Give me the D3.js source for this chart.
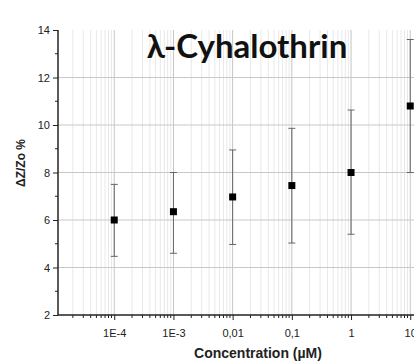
<!DOCTYPE html>
<html>
<head>
<meta charset="utf-8">
<script src="https://cdn.jsdelivr.net/npm/d3@7"></script>
<style>
  body { margin: 0; background: #fff; }
  svg { display: block; }
</style>
</head>
<body>
<div id="chart"></div>
<script>
// data
const concentrations = [1e-4, 1e-3, 1e-2, 1e-1, 1, 10];
const means = [6.0, 6.35, 6.97, 7.45, 8.0, 10.8];
const errLow = [4.47, 4.6, 4.97, 5.03, 5.4, 8.0];
const errHigh = [7.5, 8.0, 8.95, 9.86, 10.63, 13.6];
const xTickValues = [1e-4, 1e-3, 1e-2, 1e-1, 1, 10];
const xTickLabels = ["1E-4", "1E-3", "0,01", "0,1", "1", "10"];
const yTickValues = [2, 4, 6, 8, 10, 12, 14];

const width = 414, height = 361;
const plotLeft = 58, plotTop = 30, plotBottom = 315;
const decadePx = 59.2;

const svg = d3.select("#chart").append("svg")
    .attr("width", width)
    .attr("height", height);

const xMin = Math.pow(10, -4.95), xMax = Math.pow(10, 1.6);
const x = d3.scaleLog()
    .domain([xMin, xMax])
    .range([plotLeft, plotLeft + decadePx * (Math.log10(xMax) - Math.log10(xMin))]);

const y = d3.scaleLinear()
    .domain([2, 14])
    .range([plotBottom, plotTop]);

// minor ticks on log axis
let minorTicks = [];
for (let e = -5; e <= 1; e++) {
    for (let m = 2; m <= 9; m++) {
        const v = m * Math.pow(10, e);
        if (v > xMin && v < xMax) minorTicks.push(v);
    }
}

// vertical grid
svg.append("g").selectAll("line.minor")
    .data(minorTicks)
    .join("line")
    .attr("x1", d => x(d)).attr("x2", d => x(d))
    .attr("y1", plotTop).attr("y2", plotBottom)
    .attr("stroke", "#e8e8e8")
    .attr("stroke-width", 1);

svg.append("g").selectAll("line.major")
    .data(xTickValues)
    .join("line")
    .attr("x1", d => x(d)).attr("x2", d => x(d))
    .attr("y1", plotTop).attr("y2", plotBottom)
    .attr("stroke", "#c4c4c4")
    .attr("stroke-width", 1);

// horizontal grid
svg.append("g").selectAll("line")
    .data(yTickValues.filter(d => d > 2 && d < 14))
    .join("line")
    .attr("x1", plotLeft).attr("x2", width)
    .attr("y1", d => y(d)).attr("y2", d => y(d))
    .attr("stroke", "#c8c8c8")
    .attr("stroke-width", 1);

// Y axis
const yAxis = svg.append("g")
    .attr("transform", `translate(${plotLeft},0)`)
    .call(d3.axisLeft(y).tickValues(yTickValues).tickSize(5).tickPadding(3));
yAxis.selectAll("line").attr("stroke", "#222");
yAxis.select(".domain").attr("stroke", "#222").attr("stroke-width", 1.5).attr("d", `M0,${plotTop}V${plotBottom}`);
yAxis.selectAll("text")
    .style("font-family", "Liberation Sans, Arial, sans-serif")
    .style("font-size", "11px")
    .attr("fill", "#222");
yAxis.append("g").selectAll("line")
    .data([3, 5, 7, 9, 11, 13])
    .join("line")
    .attr("x1", -3).attr("x2", 0)
    .attr("y1", d => y(d)).attr("y2", d => y(d))
    .attr("stroke", "#222");

// X axis
const xAxis = svg.append("g")
    .attr("transform", `translate(0,${plotBottom})`)
    .call(d3.axisBottom(x).tickValues(xTickValues)
        .tickFormat((d, i) => xTickLabels[i]).tickSize(5).tickPadding(9));
xAxis.selectAll("line").attr("stroke", "#222");
xAxis.select(".domain").attr("stroke", "#222").attr("stroke-width", 1.5)
    .attr("d", `M${plotLeft},0H${width}`);
xAxis.selectAll("text")
    .style("font-family", "Liberation Sans, Arial, sans-serif")
    .style("font-size", "11px")
    .attr("fill", "#222");
xAxis.append("g").selectAll("line")
    .data(minorTicks)
    .join("line")
    .attr("x1", d => x(d)).attr("x2", d => x(d))
    .attr("y1", 0).attr("y2", 3)
    .attr("stroke", "#222");

// error bars
const pts = concentrations.map((c, i) => ({ c, m: means[i], lo: errLow[i], hi: errHigh[i] }));
const eb = svg.append("g").attr("stroke", "#666").attr("stroke-width", 1);
eb.selectAll("line.v").data(pts).join("line")
    .attr("x1", d => x(d.c)).attr("x2", d => x(d.c))
    .attr("y1", d => y(d.lo)).attr("y2", d => y(d.hi));
eb.selectAll("line.t").data(pts).join("line")
    .attr("x1", d => x(d.c) - 3.5).attr("x2", d => x(d.c) + 3.5)
    .attr("y1", d => y(d.hi)).attr("y2", d => y(d.hi));
eb.selectAll("line.b").data(pts).join("line")
    .attr("x1", d => x(d.c) - 3.5).attr("x2", d => x(d.c) + 3.5)
    .attr("y1", d => y(d.lo)).attr("y2", d => y(d.lo));

// markers
svg.append("g").selectAll("rect").data(pts).join("rect")
    .attr("x", d => x(d.c) - 3.5)
    .attr("y", d => y(d.m) - 3.5)
    .attr("width", 7).attr("height", 7)
    .attr("fill", "#000");

// title
svg.append("text")
    .attr("x", 247).attr("y", 58)
    .attr("text-anchor", "middle")
    .style("font-family", "Lato, 'Open Sans', sans-serif")
    .style("font-weight", "bold")
    .style("font-size", "33px")
    .attr("fill", "#111")
    .text("λ-Cyhalothrin");

// axis titles
svg.append("text")
    .attr("transform", "translate(25,163) rotate(-90)")
    .attr("text-anchor", "middle")
    .style("font-family", "Liberation Sans, Arial, sans-serif")
    .style("font-weight", "bold")
    .style("font-size", "12px")
    .attr("fill", "#222")
    .text("ΔZ/Zo %");

svg.append("text")
    .attr("x", 258).attr("y", 358)
    .attr("text-anchor", "middle")
    .style("font-family", "Liberation Sans, Arial, sans-serif")
    .style("font-weight", "bold")
    .style("font-size", "14px")
    .attr("fill", "#222")
    .text("Concentration (µM)");
</script>
</body>
</html>
